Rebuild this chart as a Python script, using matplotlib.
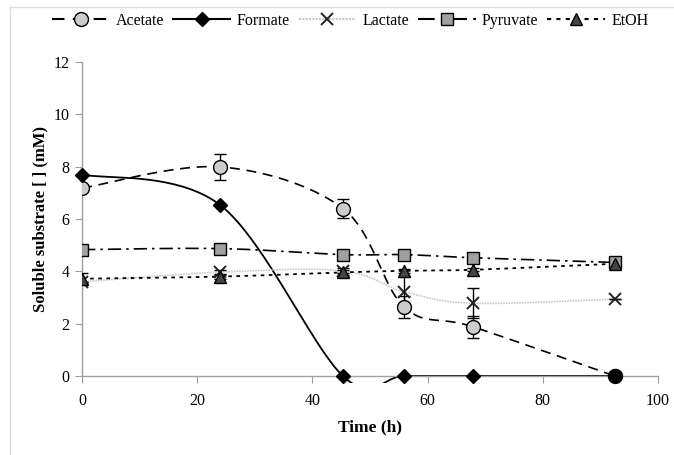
"""Soluble substrate concentrations over time, Excel-style smoothed series."""

import matplotlib
matplotlib.use("Agg")
import matplotlib.pyplot as plt
import numpy as np
from matplotlib.lines import Line2D
from matplotlib.patches import Rectangle

# ---------------------------------------------------------------------------
# Data
# ---------------------------------------------------------------------------
time_h = [0, 24, 45.3, 55.9, 67.9, 92.5]

acetate = [7.18, 7.99, 6.40, 2.64, 1.88, 0.0]
acetate_err = [0.10, 0.48, 0.36, 0.43, 0.43, 0.0]

formate = [7.70, 6.53, 0.0, 0.0, 0.0, 0.0]

lactate = [3.60, 3.97, 4.02, 3.22, 2.78, 2.94]
lactate_err = [0.0, 0.10, 0.10, 0.60, 0.57, 0.0]

pyruvate = [4.83, 4.87, 4.64, 4.64, 4.52, 4.34]

etoh = [3.72, 3.80, 3.96, 4.02, 4.06, 4.29]
etoh_err = [0.20, 0.08, 0.10, 0.08, 0.05, 0.0]

x_ticks = [0, 20, 40, 60, 80, 100]
y_ticks = [0, 2, 4, 6, 8, 10, 12]


def smooth(xs, ys, n=40):
    """Catmull-Rom curve through the points (Excel 'smoothed line')."""
    p = np.column_stack([xs, ys]).astype(float)
    p = np.vstack([p[0], p, p[-1]])
    out = []
    t = np.linspace(0.0, 1.0, n)[:, None]
    for i in range(1, len(p) - 2):
        p0, p1, p2, p3 = p[i - 1], p[i], p[i + 1], p[i + 2]
        c1 = p1 + (p2 - p0) / 6.0
        c2 = p2 - (p3 - p1) / 6.0
        seg = ((1 - t) ** 3) * p1 + 3 * ((1 - t) ** 2) * t * c1 \
            + 3 * (1 - t) * t ** 2 * c2 + t ** 3 * p2
        out.append(seg if i == 1 else seg[1:])
    seg = np.vstack(out)
    return seg[:, 0], seg[:, 1]


plt.rcParams["font.family"] = ["Liberation Serif", "DejaVu Serif"]

fig = plt.figure(figsize=(6.74, 4.55), dpi=100)
ax = fig.add_axes([0.1217, 0.1736, 0.8546, 0.6901])

# Acetate
sx, sy = smooth(time_h, acetate)
ax.plot(sx, sy, color="black", linestyle=(0, (6, 4)), linewidth=1.2, zorder=2)
ax.errorbar(time_h, acetate, yerr=acetate_err, fmt="none", ecolor="black",
            elinewidth=1.0, capsize=4, capthick=1.0, zorder=3)
ax.plot(time_h, acetate, linestyle="none", marker="o", markersize=10,
        markerfacecolor="#cccccc", markeredgecolor="black",
        markeredgewidth=1.0, zorder=4)
ax.plot(time_h[-1], acetate[-1], linestyle="none", marker="o", markersize=10,
        markerfacecolor="black", markeredgecolor="black", zorder=6,
        clip_on=False)

# Formate: the smoothed curve overshoots below the axis; the original plot
# area lets a few pixels of it show before clipping.
sx, sy = smooth(time_h, formate)
(formate_line,) = ax.plot(sx, sy, color="black", linestyle="-",
                          linewidth=1.3, zorder=2)
formate_line.set_clip_path(Rectangle((0, -0.28), 100, 12.28,
                                     transform=ax.transData))
ax.plot(time_h, formate, linestyle="none", marker="D", markersize=7,
        markerfacecolor="black", markeredgecolor="black", zorder=5,
        clip_on=False)

# Lactate
sx, sy = smooth(time_h, lactate)
ax.plot(sx, sy, color="#c8c8c8", linestyle=(0, (1, 0.6)), linewidth=1.2,
        zorder=2)
ax.errorbar(time_h, lactate, yerr=lactate_err, fmt="none", ecolor="black",
            elinewidth=1.0, capsize=4, capthick=1.0, zorder=3)
ax.plot(time_h, lactate, linestyle="none", marker="x", markersize=9,
        markeredgecolor="#222222", markeredgewidth=1.4, zorder=4)

# Pyruvate
sx, sy = smooth(time_h, pyruvate)
ax.plot(sx, sy, color="black", linestyle=(0, (8, 3, 1.5, 3)),
        linewidth=1.2, zorder=2)
ax.plot(time_h, pyruvate, linestyle="none", marker="s", markersize=9,
        markerfacecolor="#a0a0a0", markeredgecolor="black",
        markeredgewidth=1.0, zorder=4)

# EtOH
sx, sy = smooth(time_h, etoh)
ax.plot(sx, sy, color="black", linestyle=(0, (2, 2.5)), linewidth=1.3,
        zorder=2)
ax.errorbar(time_h, etoh, yerr=etoh_err, fmt="none", ecolor="black",
            elinewidth=1.0, capsize=4, capthick=1.0, zorder=3)
ax.plot(time_h, etoh, linestyle="none", marker="^", markersize=9,
        markerfacecolor="#444444", markeredgecolor="black",
        markeredgewidth=1.0, zorder=5)

ax.set_xlim(0, 100)
ax.set_ylim(0, 12)
ax.set_xticks(x_ticks)
ax.set_yticks(y_ticks)
for side in ("top", "right"):
    ax.spines[side].set_visible(False)
for side in ("left", "bottom"):
    ax.spines[side].set_color("#a0a0a0")
    ax.spines[side].set_linewidth(1.0)
ax.tick_params(axis="both", direction="out", length=5, color="#a0a0a0",
               labelsize=11.5)
ax.tick_params(axis="x", pad=7)
ax.tick_params(axis="y", pad=4)
ax.set_xlabel("Time (h)", fontsize=12.5, fontweight="bold", labelpad=8)
ax.set_ylabel("Soluble substrate [ ] (mM)", fontsize=12, fontweight="bold",
              labelpad=4)

handles = [
    Line2D([], [], color="black", linestyle=(0, (6, 4)), marker="o",
           markersize=10, markerfacecolor="#cccccc", markeredgecolor="black"),
    Line2D([], [], color="black", linestyle="-", marker="D", markersize=7,
           markerfacecolor="black"),
    Line2D([], [], color="#c8c8c8", linestyle=(0, (1, 0.6)), marker="x",
           markersize=9, markeredgecolor="#222222", markeredgewidth=1.4),
    Line2D([], [], color="black", linestyle=(0, (8, 3, 1.5, 3)), marker="s",
           markersize=9, markerfacecolor="#a0a0a0", markeredgecolor="black"),
    Line2D([], [], color="black", linestyle=(0, (2, 2.5)), marker="^",
           markersize=9, markerfacecolor="#444444", markeredgecolor="black"),
]
labels = ["Acetate", "Formate", "Lactate", "Pyruvate", "EtOH"]
fig.legend(handles, labels, loc="center left", bbox_to_anchor=(0.077, 0.954),
           ncol=5, frameon=False, fontsize=11.5, handlelength=3.6,
           handletextpad=0.4, columnspacing=0.55, borderaxespad=0.0,
           borderpad=0.0)

# faint frame lines of the original chart area
fig.add_artist(Line2D([0.015, 1.0], [0.985, 0.985], color="#dddddd",
                      linewidth=1.0, transform=fig.transFigure))
fig.add_artist(Line2D([0.015, 0.015], [0.0, 0.985], color="#dddddd",
                      linewidth=1.0, transform=fig.transFigure))

fig.savefig("out.png", dpi=100)
